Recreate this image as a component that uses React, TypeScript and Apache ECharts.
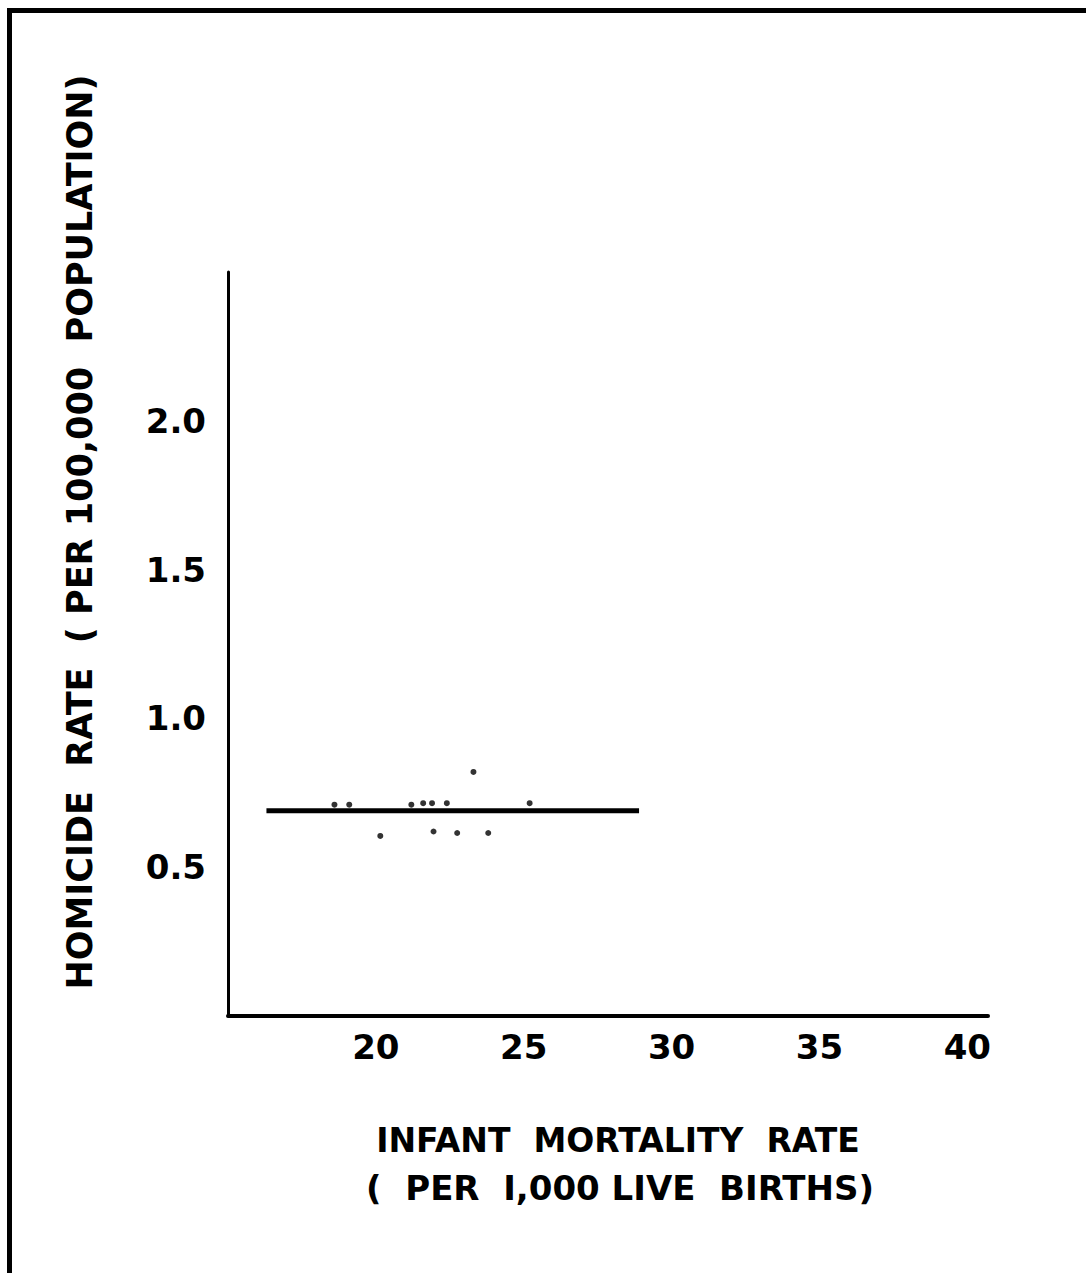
import React, { useEffect, useRef } from "react";
import * as echarts from "echarts";

const xTickLabels = [20, 25, 30, 35, 40];
const yTickLabels = [0.5, 1.0, 1.5, 2.0];

// observed points (infant mortality rate, homicide rate)
const pointsX = [18.6, 19.1, 21.2, 21.6, 21.9, 22.4, 23.3, 25.2, 20.15, 21.95, 22.75, 23.8];
const pointsY = [0.71, 0.71, 0.71, 0.715, 0.715, 0.715, 0.82, 0.715, 0.605, 0.62, 0.615, 0.615];

// fitted regression line (horizontal)
const fitX = [16.3, 28.9];
const fitY = [0.69, 0.69];

const yTitle = "HOMICIDE  RATE  ( PER 100,000  POPULATION)";
const xTitle1 = "INFANT  MORTALITY  RATE";
const xTitle2 = "(  PER  I,000 LIVE  BIRTHS)";

const FONT = "DejaVu Sans";

export default function App() {
  const ref = useRef<HTMLDivElement>(null);
  useEffect(() => {
    if (!ref.current) return;
    const chart = echarts.init(ref.current, null, { renderer: "svg" });
    chart.setOption({
      animation: false,
      backgroundColor: "#ffffff",
      grid: { left: 228, right: 98, top: 272, bottom: 257 },
      xAxis: {
        type: "value",
        min: 15,
        max: 40.7,
        interval: 5,
        axisLine: { show: true, lineStyle: { color: "#000", width: 4 } },
        axisTick: { show: false },
        splitLine: { show: false },
        axisLabel: {
          color: "#000",
          fontFamily: FONT,
          fontWeight: "bold",
          fontSize: 34,
          margin: 14,
          showMinLabel: true,
          showMaxLabel: true,
          formatter: (v: number) => (xTickLabels.includes(v) ? String(v) : ""),
        },
      },
      yAxis: {
        type: "value",
        min: 0,
        max: 2.5,
        interval: 0.5,
        axisLine: { show: true, lineStyle: { color: "#000", width: 3 } },
        axisTick: { show: false },
        splitLine: { show: false },
        axisLabel: {
          color: "#000",
          fontFamily: FONT,
          fontWeight: "bold",
          fontSize: 34,
          margin: 22,
          formatter: (v: number) =>
            yTickLabels.some((t) => Math.abs(t - v) < 1e-9) ? v.toFixed(1) : "",
        },
      },
      series: [
        {
          type: "line",
          data: fitX.map((x, i) => [x, fitY[i]]),
          symbol: "none",
          lineStyle: { color: "#000", width: 5 },
        },
        {
          type: "scatter",
          data: pointsX.map((x, i) => [x, pointsY[i]]),
          symbolSize: 6,
          itemStyle: { color: "#000" },
        },
      ],
      graphic: [
        { type: "rect", shape: { x: 7, y: 8, width: 1079, height: 5 }, style: { fill: "#000" } },
        { type: "rect", shape: { x: 7, y: 8, width: 5, height: 1265 }, style: { fill: "#000" } },
        {
          type: "text",
          x: 80,
          y: 532,
          rotation: Math.PI / 2,
          style: {
            text: yTitle,
            fill: "#000",
            font: `bold 35px "${FONT}"`,
            align: "center",
            verticalAlign: "middle",
          },
        },
        {
          type: "text",
          x: 618,
          y: 1140,
          style: {
            text: xTitle1,
            fill: "#000",
            font: `bold 33px "${FONT}"`,
            align: "center",
            verticalAlign: "middle",
          },
        },
        {
          type: "text",
          x: 620,
          y: 1188,
          style: {
            text: xTitle2,
            fill: "#000",
            font: `bold 34px "${FONT}"`,
            align: "center",
            verticalAlign: "middle",
          },
        },
      ],
    });
    return () => chart.dispose();
  }, []);
  return (
    <div
      ref={ref}
      style={{ position: "absolute", left: 0, top: 0, width: 1086, height: 1273 }}
    />
  );
}
